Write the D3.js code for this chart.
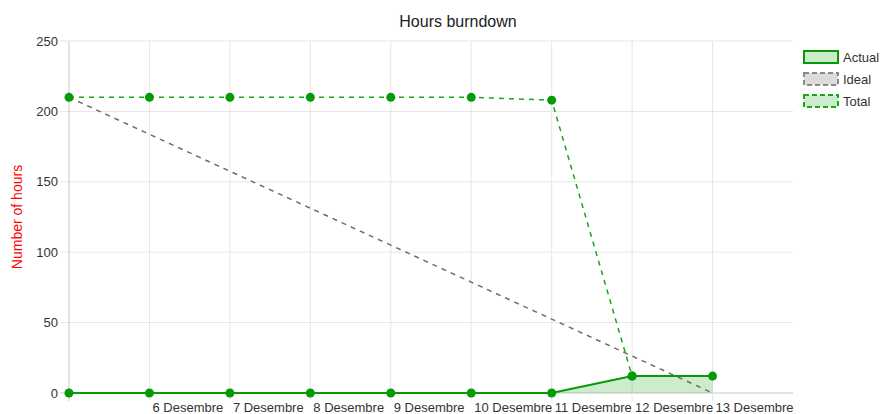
<!DOCTYPE html>
<html>
<head>
<meta charset="utf-8">
<script src="https://cdn.jsdelivr.net/npm/d3@7"></script>
<style>
  body { margin: 0; background: #fff; }
  svg { font-family: "Liberation Sans", Arial, sans-serif; }
</style>
</head>
<body>
<div id="chart"></div>
<script>
//chart data
var labels = ["", "6 Desembre", "7 Desembre", "8 Desembre", "9 Desembre", "10 Desembre", "11 Desembre", "12 Desembre", "13 Desembre"];
var actual = [0, 0, 0, 0, 0, 0, 0, 12, 12];
var ideal = [210, 183.75, 157.5, 131.25, 105, 78.75, 52.5, 26.25, 0];
var total = [210, 210, 210, 210, 210, 210, 208, 12];
var yTicks = [0, 50, 100, 150, 200, 250];

var width = 893, height = 414;
var plot = {left: 69, right: 793, top: 41, bottom: 393};

var green = "#079a07";

var svg = d3.select("#chart").append("svg")
    .attr("width", width)
    .attr("height", height);

//scales
var x = d3.scaleLinear().domain([0, 9]).range([plot.left, plot.right]);
var y = d3.scaleLinear().domain([0, 250]).range([plot.bottom, plot.top]);

//horizontal grid
svg.append("g").selectAll("line")
    .data(yTicks)
    .enter().append("line")
    .attr("x1", plot.left - 9)
    .attr("x2", plot.right)
    .attr("y1", d => y(d))
    .attr("y2", d => y(d))
    .attr("stroke", d => d === 0 ? "#c8c8c8" : "#e6e6e6")
    .attr("stroke-width", 1);

//vertical grid
svg.append("g").selectAll("line")
    .data(labels)
    .enter().append("line")
    .attr("x1", (d, i) => x(i))
    .attr("x2", (d, i) => x(i))
    .attr("y1", plot.top)
    .attr("y2", plot.bottom + 8)
    .attr("stroke", (d, i) => i === 0 ? "#c8c8c8" : "#e6e6e6")
    .attr("stroke-width", 1);

//y tick labels
svg.append("g").selectAll("text")
    .data(yTicks)
    .enter().append("text")
    .attr("x", plot.left - 11)
    .attr("y", d => y(d))
    .attr("dy", "0.35em")
    .attr("text-anchor", "end")
    .attr("font-size", 13)
    .attr("fill", "#333")
    .text(d => d);

//x tick labels, left aligned on tick
svg.append("g").selectAll("text")
    .data(labels)
    .enter().append("text")
    .attr("x", (d, i) => x(i) + 3)
    .attr("y", plot.bottom + 18.5)
    .attr("font-size", 13)
    .attr("fill", "#333")
    .text(d => d);

//title
svg.append("text")
    .attr("x", 458)
    .attr("y", 27)
    .attr("text-anchor", "middle")
    .attr("font-size", 16)
    .attr("fill", "#222")
    .text("Hours burndown");

//y axis label
svg.append("text")
    .attr("transform", "translate(22,217) rotate(-90)")
    .attr("text-anchor", "middle")
    .attr("font-size", 14)
    .attr("fill", "red")
    .text("Number of hours");

var line = d3.line().x((d, i) => x(i)).y(d => y(d));
var area = d3.area().x((d, i) => x(i)).y0(y(0)).y1(d => y(d));

//actual fill
svg.append("path")
    .attr("d", area(actual))
    .attr("fill", "rgba(7,154,7,0.2)");

//ideal
svg.append("path")
    .attr("d", line(ideal))
    .attr("fill", "none")
    .attr("stroke", "#6e6e6e")
    .attr("stroke-width", 1.5)
    .attr("stroke-dasharray", "5,5");

//total
svg.append("path")
    .attr("d", line(total))
    .attr("fill", "none")
    .attr("stroke", "#18a818")
    .attr("stroke-width", 1.5)
    .attr("stroke-dasharray", "5,5");

//actual
svg.append("path")
    .attr("d", line(actual))
    .attr("fill", "none")
    .attr("stroke", green)
    .attr("stroke-width", 2);

//points
svg.append("g").selectAll("circle")
    .data(total)
    .enter().append("circle")
    .attr("cx", (d, i) => x(i))
    .attr("cy", d => y(d))
    .attr("r", 4.5)
    .attr("fill", green);

svg.append("g").selectAll("circle")
    .data(actual)
    .enter().append("circle")
    .attr("cx", (d, i) => x(i))
    .attr("cy", d => y(d))
    .attr("r", 4.5)
    .attr("fill", green);

//legend
var legendItems = [
    {name: "Actual", fill: "rgba(7,154,7,0.2)", stroke: green, dash: null},
    {name: "Ideal", fill: "#dcdcdc", stroke: "#8a8a8a", dash: "5,3"},
    {name: "Total", fill: "rgba(7,154,7,0.2)", stroke: "#18a818", dash: "5,3"}
];

var legend = svg.append("g").selectAll("g")
    .data(legendItems)
    .enter().append("g")
    .attr("transform", (d, i) => "translate(804," + (51 + i * 22) + ")");

legend.append("rect")
    .attr("width", 34)
    .attr("height", 12)
    .attr("fill", d => d.fill)
    .attr("stroke", d => d.stroke)
    .attr("stroke-width", 2)
    .attr("stroke-dasharray", d => d.dash);

legend.append("text")
    .attr("x", 39)
    .attr("y", 6)
    .attr("dy", "0.35em")
    .attr("font-size", 13)
    .attr("fill", "#333")
    .text(d => d.name);
</script>
</body>
</html>
